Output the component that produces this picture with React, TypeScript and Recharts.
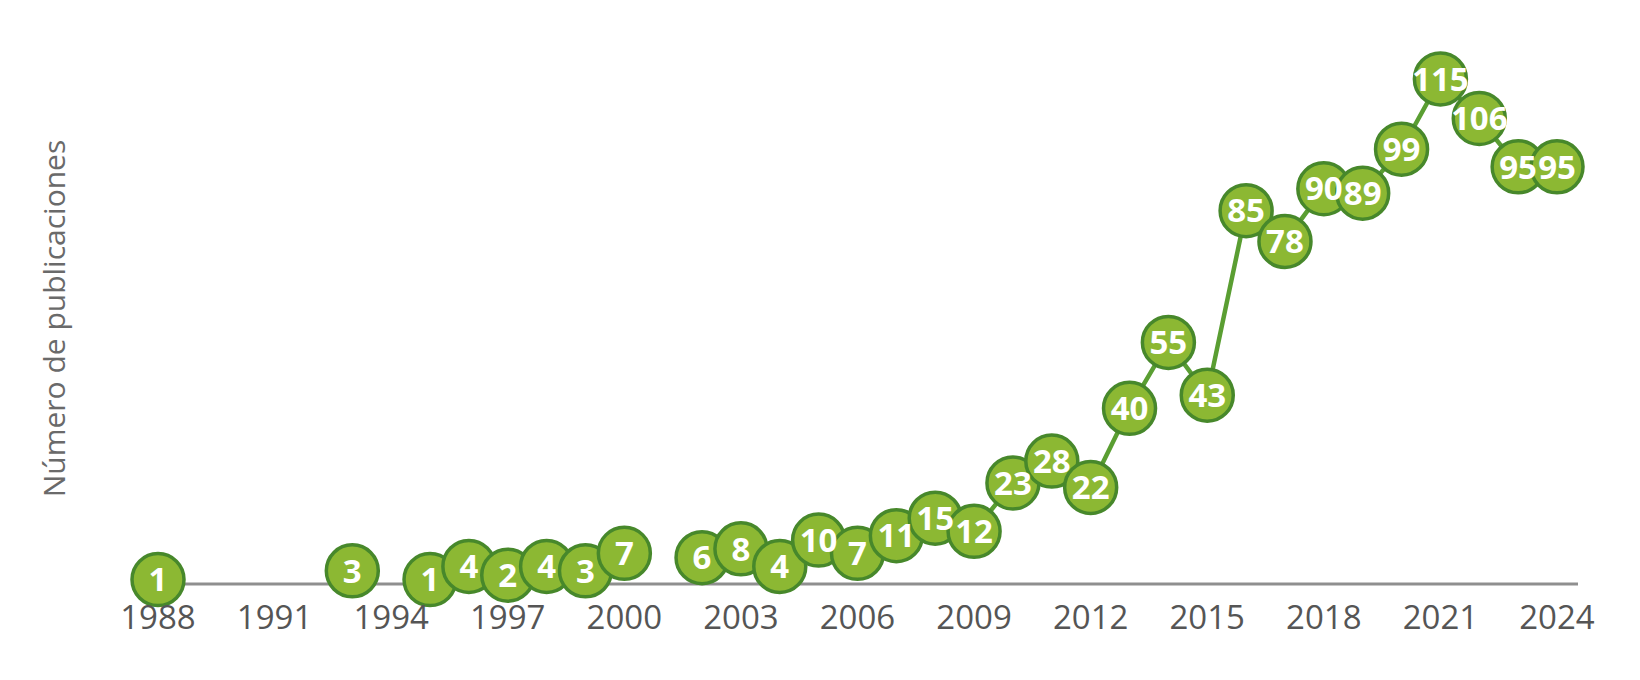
import React from "react";
import { LabelList, Line, LineChart, XAxis, YAxis } from "recharts";

// años y número de publicaciones (null = sin dato, la línea se corta)
const years = [
  1988, 1989, 1990, 1991, 1992, 1993, 1994, 1995, 1996, 1997, 1998, 1999,
  2000, 2001, 2002, 2003, 2004, 2005, 2006, 2007, 2008, 2009, 2010, 2011,
  2012, 2013, 2014, 2015, 2016, 2017, 2018, 2019, 2020, 2021, 2022, 2023,
  2024,
];
const publications = [
  1, null, null, null, null, 3, null, 1, 4, 2, 4, 3,
  7, null, 6, 8, 4, 10, 7, 11, 15, 12, 23, 28,
  22, 40, 55, 43, 85, 78, 90, 89, 99, 115, 106, 95,
  95,
];
const yearTicks = [1988, 1991, 1994, 1997, 2000, 2003, 2006, 2009, 2012, 2015, 2018, 2021, 2024];
const yLabel = "Número de publicaciones";

const data = years.map((year, i) => ({ year, count: publications[i] }));

const FONT = "'Open Sans', 'DejaVu Sans', sans-serif";

const App = () => {
  return (
    <div style={{ position: "absolute", left: 0, top: 0, width: 1640, height: 680, background: "#fff" }}>
      <LineChart
        width={1640}
        height={680}
        data={data}
        margin={{ top: 57, right: 62, bottom: 46, left: 0 }}
      >
        <XAxis
          dataKey="year"
          type="number"
          domain={[1988, 2024]}
          ticks={yearTicks}
          interval={0}
          padding={{ left: 22, right: 21 }}
          height={50}
          tickLine={false}
          tickSize={0}
          tickMargin={22}
          axisLine={{ stroke: "#8f8f8f", strokeWidth: 3 }}
          tick={{ fill: "#555555", fontSize: 33, fontFamily: FONT }}
        />
        <YAxis
          domain={[0, 120]}
          width={136}
          tick={false}
          tickLine={false}
          axisLine={false}
          label={{
            content: ({ viewBox }: any) => {
              const cy = viewBox.y + viewBox.height / 2 - 2;
              return (
                <text
                  x={54}
                  y={cy}
                  transform={`rotate(-90, 54, ${cy})`}
                  textAnchor="middle"
                  dy="0.36em"
                  fill="#6a6a6a"
                  fontSize={30}
                  fontFamily={FONT}
                >
                  {yLabel}
                </text>
              );
            },
          }}
        />
        <Line
          dataKey="count"
          type="linear"
          stroke="#5a9e32"
          strokeWidth={4.5}
          connectNulls={false}
          isAnimationActive={false}
          dot={{ r: 26, fill: "#8cb833", stroke: "#47882b", strokeWidth: 3.5, fillOpacity: 1 }}
          activeDot={false}
        >
          <LabelList
            dataKey="count"
            position="center"
            fill="#ffffff"
            fontSize={33}
            fontWeight="bold"
            fontFamily={FONT}
          />
        </Line>
      </LineChart>
    </div>
  );
};

export default App;
